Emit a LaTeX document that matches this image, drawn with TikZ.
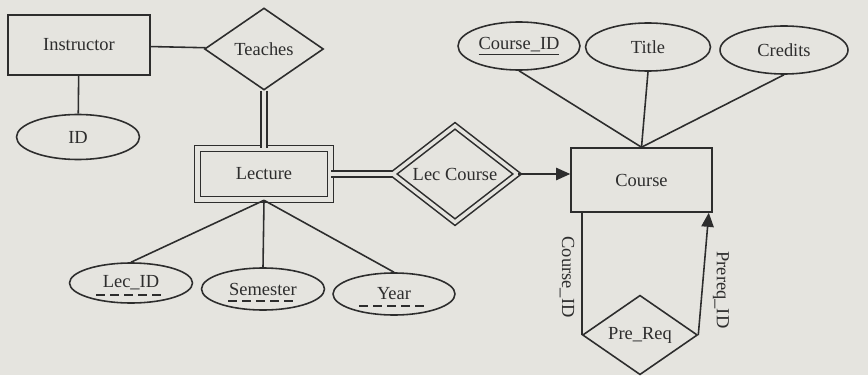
\documentclass[tikz,border=0pt]{standalone}
\usepackage{fontspec}
\setmainfont{Liberation Serif}
\usetikzlibrary{shapes.geometric,arrows.meta}
\definecolor{paper}{RGB}{229,228,223}
\definecolor{ink}{RGB}{45,45,45}

\begin{document}
\begin{tikzpicture}[x=0.02cm, y=-0.02cm, font=\fontsize{10.5}{12}\selectfont, text=ink]
%% coordinates are pixels of the 868x375 drawing, y grows downwards
%% double lines take the paper colour inside
\tikzstyle{line}=[draw=ink, line width=0.9pt]
\tikzstyle{entity}=[rectangle, draw=ink, line width=0.9pt, inner sep=0pt]
\tikzstyle{weakentity}=[entity, double=paper, double distance=2.3pt]
\tikzstyle{relation}=[diamond, draw=ink, line width=0.9pt, inner sep=0pt]
\tikzstyle{weakrelation}=[relation, double=paper, double distance=2pt]
\tikzstyle{attribute}=[ellipse, draw=ink, line width=0.9pt, inner sep=0pt]
\tikzstyle{arc}=[line, -{Triangle[length=8pt,width=7pt]}]
\tikzstyle{total}=[line, double=paper, double distance=2.3pt]
\tikzstyle{partialkey}=[line, dash pattern=on 5pt off 3pt]
\tikzstyle{role}=[rotate=-90, inner sep=1pt]
\fill[paper] (0,0) rectangle (868,375);
\useasboundingbox (0,0) rectangle (868,375);
%% entities %%
\node[entity, minimum width=2.84cm, minimum height=1.2cm] at (79,45) (Instructor) {Instructor};
\node[weakentity, minimum width=2.66cm, minimum height=1.02cm] at (264,174) (Lecture) {Lecture};
\node[entity, minimum width=2.82cm, minimum height=1.28cm] at (641.5,180) (Course) {Course};
%% relationships %%
\node[relation, minimum width=2.38cm, minimum height=1.64cm] at (264,49) (Teaches) {Teaches};
\node[weakrelation, minimum width=2.5cm, minimum height=1.56cm] at (455,174) (Lec_Course) {Lec Course};
\node[relation, minimum width=2.3cm, minimum height=1.52cm] at (640,335) (Pre_Req) {Pre\_Req};
%% attributes %%
\node[attribute, minimum width=2.46cm, minimum height=0.9cm] at (78,137) (ID) {ID};
\node[attribute, minimum width=2.44cm, minimum height=0.96cm] at (519,46) (Course_ID) {\underline{Course\_ID}};
\node[attribute, minimum width=2.5cm, minimum height=0.96cm] at (648,47) (Title) {Title};
\node[attribute, minimum width=2.56cm, minimum height=0.96cm] at (784,50) (Credits) {Credits};
\node[attribute, minimum width=2.46cm, minimum height=0.8cm] at (131,283) (Lec_ID) {Lec\_ID};
\node[attribute, minimum width=2.46cm, minimum height=0.84cm] at (263,289) (Semester) {Semester};
\node[attribute, minimum width=2.44cm, minimum height=0.84cm] at (394,294) (Year) {Year};
%% dashed underline of the partial key
\foreach \k in {Lec_ID, Semester, Year}
  \draw[partialkey] ([shift={(-35,12)}]\k.center) -- ++(70,0);
%% connectors %%
\draw[line] (Instructor) -- (Teaches);
\draw[line] (Instructor) -- (ID);
\draw[total] (Teaches.south) -- (Lecture.north);
\draw[total] (Lecture.east) -- (Lec_Course.west);
\draw[arc] (Lec_Course.east) -- (Lec_Course.east -| Course.west);
\draw[line] (Course_ID.south) -- (Course.north);
\draw[line] (Title.south) -- (Course.north);
\draw[line] (Credits.south) -- (Course.north);
\draw[line] (Lecture.south) -- (Lec_ID.north);
\draw[line] (Lecture.south) -- (Semester.north);
\draw[line] (Lecture.south) -- (Year.north);
\draw[line] (Pre_Req.west |- Course.south) -- (Pre_Req.west);
\draw[arc] (Pre_Req.east) -- ([xshift=-0.08cm]Course.south east);
%% role labels %%
\node[role] at (567,277) (Course_ID_role) {Course\_ID};
\node[role] at (721,290) (Prereq_ID_role) {Prereq\_ID};
\end{tikzpicture}
\end{document}
